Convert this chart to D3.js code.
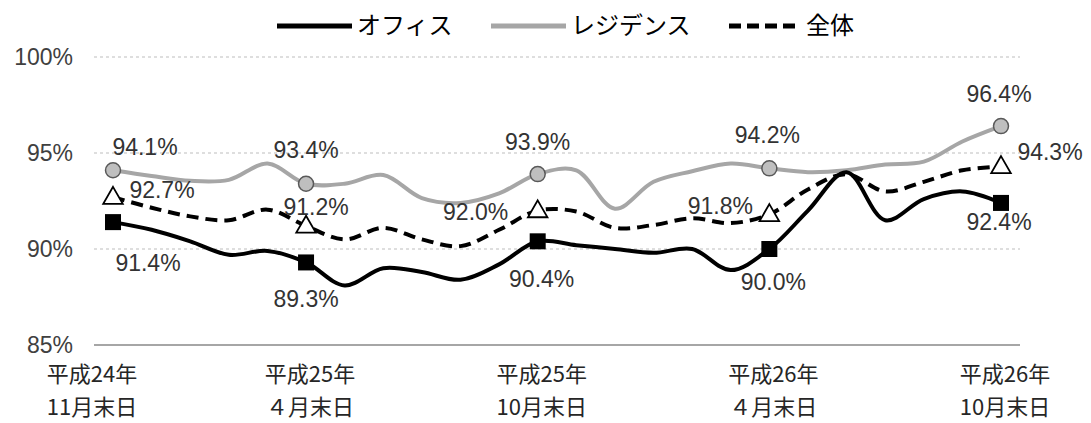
<!DOCTYPE html>
<html>
<head>
<meta charset="utf-8">
<script src="https://cdn.jsdelivr.net/npm/d3@7"></script>
<style>
  body { margin: 0; background: #fff; }
  svg { display: block; }
</style>
</head>
<body>
<svg id="chart" width="1091" height="423"></svg>
<script>
// 月末ごとの稼働率（平成24年11月末〜平成26年10月末）
const months = ['H24.11', 'H24.12', 'H25.01', 'H25.02', 'H25.03', 'H25.04', 'H25.05', 'H25.06',
  'H25.07', 'H25.08', 'H25.09', 'H25.10', 'H25.11', 'H25.12', 'H26.01', 'H26.02', 'H26.03',
  'H26.04', 'H26.05', 'H26.06', 'H26.07', 'H26.08', 'H26.09', 'H26.10']

const office = [91.4, 91.0, 90.4, 89.7, 89.9, 89.3, 88.1, 89.0, 88.8, 88.4, 89.2, 90.4,
  90.2, 90.0, 89.8, 90.0, 88.9, 90.0, 92.0, 94.0, 91.5, 92.6, 93.0, 92.4]
const residence = [94.1, 93.8, 93.55, 93.6, 94.45, 93.4, 93.4, 93.85, 92.65, 92.4, 92.9, 93.9,
  94.1, 92.1, 93.5, 94.05, 94.45, 94.2, 94.0, 94.1, 94.4, 94.55, 95.6, 96.4]
const total = [92.7, 92.15, 91.7, 91.5, 92.05, 91.2, 90.5, 91.1, 90.5, 90.15, 91.0, 92.0,
  91.95, 91.1, 91.25, 91.6, 91.35, 91.8, 93.1, 93.9, 93.0, 93.5, 94.1, 94.3]

// マーカーとラベルを付ける月
const markedIdx = [0, 5, 11, 17, 23]
const xLabels = [['平成24年', '11月末日'], ['平成25年', '４月末日'], ['平成25年', '10月末日'],
  ['平成26年', '４月末日'], ['平成26年', '10月末日']]
const yTicks = [85, 90, 95, 100]

// ラベルの位置調整（マーカーからのずれ）
const residenceLabelOffsets = [[32, -23], [0, -34], [0, -32], [-2, -33], [-2, -32]]
const totalLabelOffsets = [[49, -7], [10, -19], [-62, 1], [-49, -8], [49, -14]]
const officeLabelOffsets = [[35, 41], [0, 37], [4, 38], [4, 33], [-2, 19]]

const svg = d3.select('#chart')
const x = d3.scalePoint().domain(months).range([113, 1001])
const y = d3.scaleLinear().domain([85, 100]).range([345, 57])

//目盛線
svg.append('g')
  .selectAll('line')
  .data(yTicks)
  .join('line')
  .attr('x1', 94)
  .attr('x2', 1020)
  .attr('y1', d => y(d))
  .attr('y2', d => y(d))
  .attr('stroke', d => d === 85 ? '#a6a6a6' : '#bdbdbd')
  .attr('stroke-width', d => d === 85 ? 2 : 1)
  .attr('stroke-dasharray', d => d === 85 ? null : '3,3')

svg.append('g')
  .selectAll('text')
  .data(yTicks)
  .join('text')
  .attr('x', 73)
  .attr('y', d => y(d))
  .attr('dy', '0.35em')
  .attr('text-anchor', 'end')
  .attr('font-family', 'Liberation Sans, Arial, sans-serif')
  .attr('font-size', 23)
  .attr('fill', '#404040')
  .text(d => d + '%')

// 横軸ラベル
let xg = svg.append('g')
  .selectAll('text')
  .data(markedIdx)
  .join('text')
  .attr('transform', (d, i) => 'translate(' + (x(months[d]) + (i === 0 ? -21 : 4)) + ',0)')
  .attr('text-anchor', 'middle')
  .attr('font-family', 'Noto Sans CJK JP, sans-serif')
  .attr('font-size', 22)
  .attr('fill', '#262626')
xg.append('tspan').attr('x', 0).attr('y', 374).attr('dy', '0.35em').text((d, i) => xLabels[i][0])
xg.append('tspan').attr('x', 0).attr('y', 407).attr('dy', '0.35em').text((d, i) => xLabels[i][1])

const line = d3.line()
  .x((d, i) => x(months[i]))
  .y(d => y(d))
  .curve(d3.curveCatmullRom.alpha(0.5))

// 系列の線
svg.append('path').datum(residence)
  .attr('d', line).attr('fill', 'none')
  .attr('stroke', '#a6a6a6').attr('stroke-width', 4)
svg.append('path').datum(office)
  .attr('d', line).attr('fill', 'none')
  .attr('stroke', '#000').attr('stroke-width', 4)
svg.append('path').datum(total)
  .attr('d', line).attr('fill', 'none')
  .attr('stroke', '#000').attr('stroke-width', 4)
  .attr('stroke-dasharray', '12,7')

// マーカー
svg.append('g')
  .selectAll('circle')
  .data(markedIdx)
  .join('circle')
  .attr('cx', d => x(months[d]))
  .attr('cy', d => y(residence[d]))
  .attr('r', 7.5)
  .attr('fill', '#bfbfbf')
  .attr('stroke', '#595959')
  .attr('stroke-width', 1.5)

svg.append('g')
  .selectAll('rect')
  .data(markedIdx)
  .join('rect')
  .attr('x', d => x(months[d]) - 8)
  .attr('y', d => y(office[d]) - 8)
  .attr('width', 16)
  .attr('height', 16)
  .attr('fill', '#000')

svg.append('g')
  .selectAll('path')
  .data(markedIdx)
  .join('path')
  .attr('d', d3.symbol().type(d3.symbolTriangle).size(165))
  .attr('transform', d => 'translate(' + x(months[d]) + ',' + (y(total[d]) + 1) + ')')
  .attr('fill', '#fff')
  .attr('stroke', '#000')
  .attr('stroke-width', 1.8)

// データラベル
function appendLabels (values, offsets) {
  svg.append('g')
    .selectAll('text')
    .data(markedIdx)
    .join('text')
    .attr('x', (d, i) => x(months[d]) + offsets[i][0])
    .attr('y', (d, i) => y(values[d]) + offsets[i][1])
    .attr('dy', '0.35em')
    .attr('text-anchor', 'middle')
    .attr('font-family', 'Liberation Sans, Arial, sans-serif')
    .attr('font-size', 23)
    .attr('fill', '#333')
    .text(d => values[d].toFixed(1) + '%')
}
appendLabels(residence, residenceLabelOffsets)
appendLabels(total, totalLabelOffsets)
appendLabels(office, officeLabelOffsets)

// 凡例
const legend = svg.append('g').attr('font-family', 'Noto Sans CJK JP, sans-serif').attr('font-size', 24)
legend.append('line').attr('x1', 277).attr('x2', 352).attr('y1', 26).attr('y2', 26)
  .attr('stroke', '#000').attr('stroke-width', 5)
legend.append('text').attr('x', 357).attr('y', 26).attr('dy', '0.35em').text('オフィス')
legend.append('line').attr('x1', 491).attr('x2', 566).attr('y1', 26).attr('y2', 26)
  .attr('stroke', '#a6a6a6').attr('stroke-width', 5)
legend.append('text').attr('x', 571).attr('y', 26).attr('dy', '0.35em').text('レジデンス')
legend.append('line').attr('x1', 729).attr('x2', 800).attr('y1', 26).attr('y2', 26)
  .attr('stroke', '#000').attr('stroke-width', 5).attr('stroke-dasharray', '12,6')
legend.append('text').attr('x', 806).attr('y', 26).attr('dy', '0.35em').text('全体')
</script>
</body>
</html>
